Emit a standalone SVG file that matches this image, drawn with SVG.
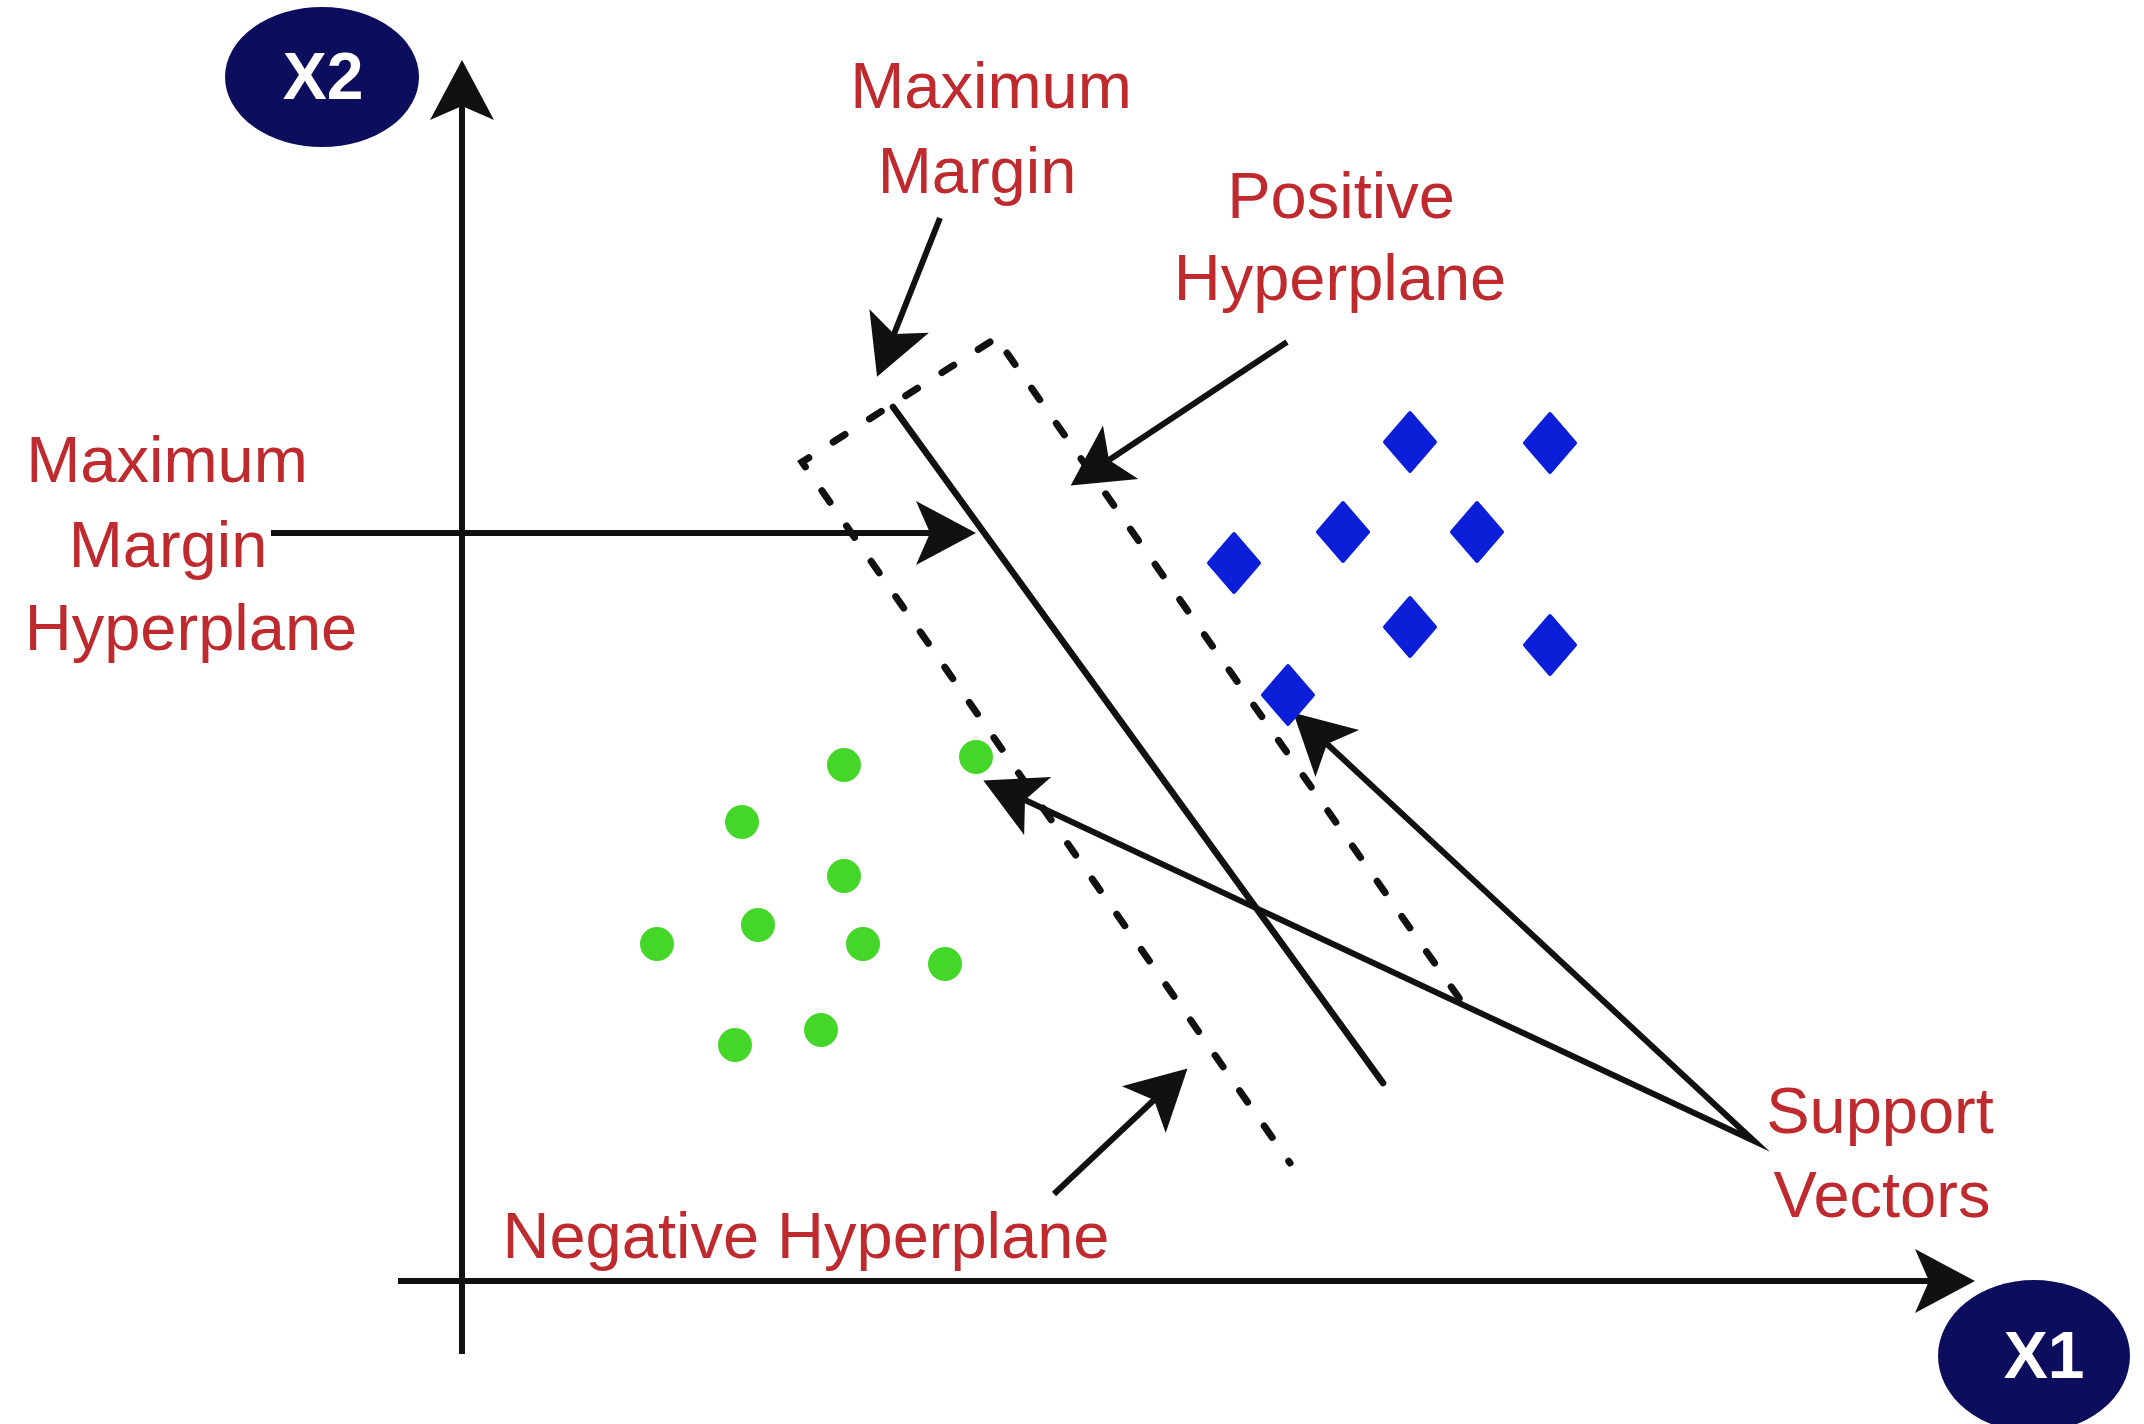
<svg xmlns="http://www.w3.org/2000/svg" xmlns:xlink="http://www.w3.org/1999/xlink" width="2144" height="1424" viewBox="0 0 2144 1424">
<style>
.lbl{font-family:"Liberation Sans",Arial,sans-serif;font-size:65px;fill:#be2a2e;text-anchor:middle}
.axl{font-family:"Liberation Sans",Arial,sans-serif;font-size:66px;font-weight:bold;fill:#ffffff;text-anchor:middle}
.ax{fill:#0d0d5e}
.ln{stroke:#111;stroke-width:6.5;fill:none;stroke-linecap:round}
.dash{stroke:#111;stroke-width:7;fill:none;stroke-dasharray:14 29;stroke-linecap:round}
.arr{stroke:#111;stroke-width:6;fill:none;marker-end:url(#ah)}
.neg{fill:#45d62a}
.pos{fill:#0b1fd8;stroke:#0b1fd8;stroke-width:4;stroke-linejoin:round}
</style>
<defs>
<marker id="ah" viewBox="-64 -36 68 72" markerWidth="68" markerHeight="72" refX="-46" refY="0" orient="auto" markerUnits="userSpaceOnUse">
<path d="M0,0 L-60,-32 L-46,0 L-60,32 Z" fill="#111"/>
</marker>
<marker id="ahs" viewBox="-64 -36 68 72" markerWidth="68" markerHeight="72" refX="-46" refY="0" orient="auto-start-reverse" markerUnits="userSpaceOnUse">
<path d="M0,0 L-60,-32 L-46,0 L-60,32 Z" fill="#111"/>
</marker>
<path id="dia" d="M0,-29 L25,0 L0,29 L-25,0 Z"/>
</defs>
<rect width="2144" height="1424" fill="#ffffff"/>

<g id="axis-x2">
<ellipse class="ax" cx="322" cy="77" rx="97" ry="70"/>
<text class="axl" x="323" y="99">X2</text>
</g>
<g id="axis-x1">
<ellipse class="ax" cx="2034" cy="1356" rx="96" ry="76"/>
<text class="axl" x="2044" y="1378">X1</text>
</g>

<g id="connectors">
<line class="arr" x1="462" y1="1354" x2="462" y2="106"/>
<line class="arr" x1="398" y1="1281" x2="1929" y2="1281"/>
<line class="arr" x1="271" y1="533" x2="930" y2="533"/>
<line class="arr" x1="940" y1="218" x2="894" y2="334"/>
<line class="arr" x1="1287" y1="342" x2="1109" y2="460"/>
<line class="arr" x1="1054" y1="1194" x2="1154" y2="1100"/>
<path d="M1025,800 L1754,1141 L1327,744" stroke="#111" stroke-width="6" fill="none" stroke-linejoin="miter" stroke-miterlimit="12" marker-start="url(#ahs)" marker-end="url(#ah)"/>
</g>

<g id="hyperplanes">
<path class="dash" d="M990,342 L802,462 L1290,1163"/>
<line class="dash" x1="1007" y1="353" x2="1466" y2="1008"/>
<line class="ln" x1="893" y1="407" x2="1383" y2="1083"/>
</g>

<g id="negative-points">
<circle class="neg" cx="844" cy="765" r="17"/>
<circle class="neg" cx="976" cy="757" r="17"/>
<circle class="neg" cx="742" cy="822" r="17"/>
<circle class="neg" cx="844" cy="876" r="17"/>
<circle class="neg" cx="758" cy="925" r="17"/>
<circle class="neg" cx="657" cy="944" r="17"/>
<circle class="neg" cx="863" cy="944" r="17"/>
<circle class="neg" cx="945" cy="964" r="17"/>
<circle class="neg" cx="735" cy="1045" r="17"/>
<circle class="neg" cx="821" cy="1030" r="17"/>
</g>

<g id="positive-points">
<use href="#dia" xlink:href="#dia" class="pos" x="1410" y="442"/>
<use href="#dia" xlink:href="#dia" class="pos" x="1550" y="443"/>
<use href="#dia" xlink:href="#dia" class="pos" x="1343" y="532"/>
<use href="#dia" xlink:href="#dia" class="pos" x="1477" y="532"/>
<use href="#dia" xlink:href="#dia" class="pos" x="1234" y="563"/>
<use href="#dia" xlink:href="#dia" class="pos" x="1410" y="627"/>
<use href="#dia" xlink:href="#dia" class="pos" x="1550" y="645"/>
<use href="#dia" xlink:href="#dia" class="pos" x="1288" y="695"/>
</g>

<g id="label-max-margin">
<text class="lbl" x="991" y="108">Maximum</text>
<text class="lbl" x="977" y="193">Margin</text>
</g>
<g id="label-positive">
<text class="lbl" x="1341" y="218">Positive</text>
<text class="lbl" x="1340" y="300">Hyperplane</text>
</g>
<g id="label-mmh">
<text class="lbl" x="167" y="482">Maximum</text>
<text class="lbl" x="168" y="567">Margin</text>
<text class="lbl" x="191" y="650">Hyperplane</text>
</g>
<g id="label-negative">
<text class="lbl" x="806" y="1258">Negative Hyperplane</text>
</g>
<g id="label-support">
<text class="lbl" x="1880" y="1133">Support</text>
<text class="lbl" x="1882" y="1217">Vectors</text>
</g>
</svg>
